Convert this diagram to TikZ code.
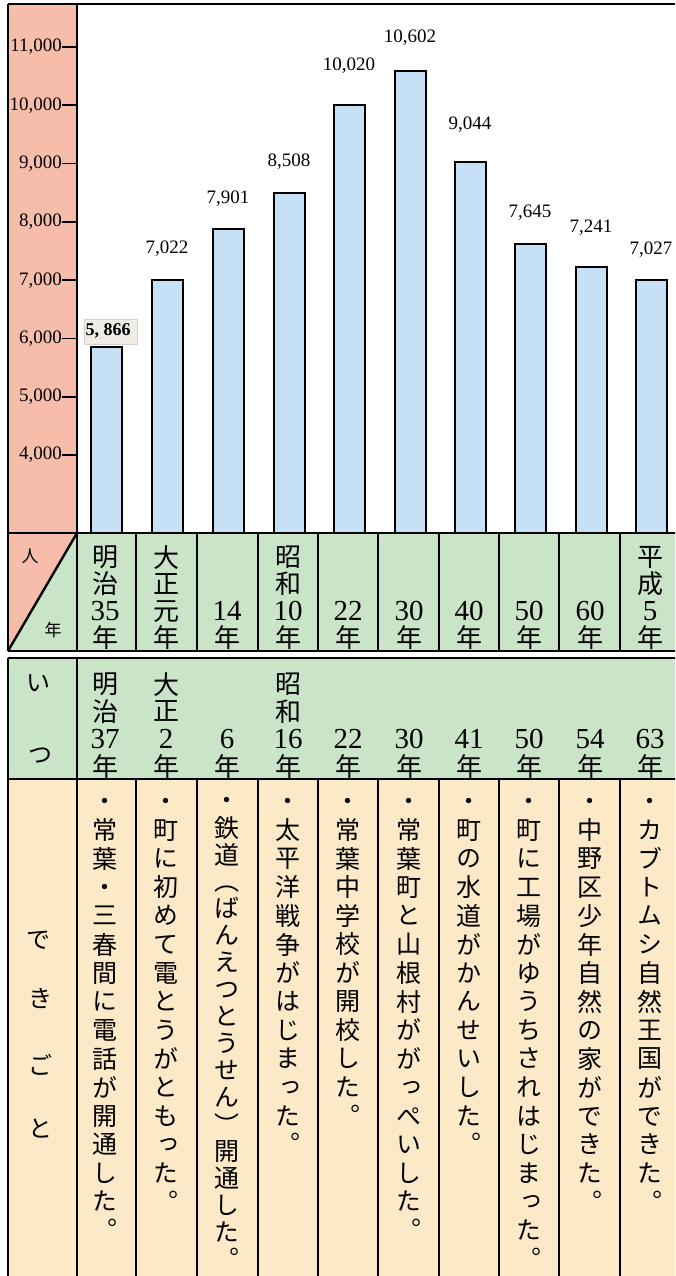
\documentclass[tikz,border=0pt]{standalone}
\usepackage{fontspec}
\setmainfont{Liberation Serif}
\newfontfamily\jfont[Script=CJK,RawFeature=+vert]{Noto Sans CJK JP}
\newfontfamily\jhfont{Noto Sans CJK JP}

\definecolor{axispink}{RGB}{246,189,170}
\definecolor{rowgreen}{RGB}{201,228,199}
\definecolor{rowcream}{RGB}{252,233,199}
\definecolor{barblue}{RGB}{198,225,246}
\definecolor{patchgray}{RGB}{238,236,228}

\newcommand\nm{\rmfamily\fontsize{29}{29}\selectfont}

\makeatletter
\newdimen\tate@pitch
\def\tate@stop{\tate@stop}
\newcommand\tate[2]{\vbox{\offinterlineskip\tate@pitch=#1\relax
  \expandafter\tate@loop#2\tate@stop}}
\def\tate@loop#1{\def\tate@arg{#1}%
  \ifx\tate@arg\tate@stop\else\tate@cell{#1}\expandafter\tate@loop\fi}
\def\tate@cell#1{%
  \vbox to\tate@pitch{\vss\hbox to 40pt{\hss\jfont\vphantom{国}#1\hss}\vss}}
\makeatother

\begin{document}
\begin{tikzpicture}[x=1pt,y=-1pt,
    rule/.style={line width=2.4pt},
    bar/.style={draw,line width=2pt,fill=barblue},
    tick/.style={anchor=east,inner sep=0pt,font=\fontsize{19}{19}\selectfont},
    val/.style={inner sep=0pt,font=\fontsize{19}{19}\selectfont},
    head/.style={inner sep=0pt,font=\jhfont\fontsize{24}{24}\selectfont},
    yearcell/.style={anchor=south,inner sep=0pt,font=\fontsize{26}{26}\selectfont},
    eventcell/.style={anchor=north,inner sep=0pt,font=\fontsize{25}{25}\selectfont}]
  \useasboundingbox (0,0) rectangle (675,1276);
  \clip (0,0) rectangle (675,1276);

  \coordinate (NW) at (8,4);
  \coordinate (axis top) at (77,4);
  \coordinate (base) at (77,533);
  \coordinate (row1) at (8,533);
  \coordinate (row1 end) at (8,651);
  \coordinate (row2) at (8,658);
  \coordinate (row3) at (8,779);

  \fill[white] (0,0) rectangle (675,1276);
  \fill[axispink] (NW) rectangle (base);
  \fill[rowgreen] (base) rectangle (680,651);
  \fill[axispink] (row1) -- (base) -- (row1 end) -- cycle;
  \fill[rowgreen] (base) -- (77,651) -- (row1 end) -- cycle;
  \fill[rowgreen] (row2) rectangle (680,779);
  \fill[rowcream] (row3) rectangle (680,1280);

  \foreach \cx/\v in {106/5866,167/7022,228/7901,289/8508,349/10020,
                      410/10602,470/9044,530/7645,591/7241,651/7027}
    \draw[bar] (\cx-15.5,533) rectangle (\cx+15.5,{456-(\v-4000)*0.058286});

  \foreach \k in {4,...,11}{
    \draw[line width=1.6pt] (62,{455-(\k-4)*58.286}) -- (77,{455-(\k-4)*58.286});
    \node[tick] (t\k) at (62,{455-(\k-4)*58.286}) {\k,000};
  }

  \draw[rule] (NW) -- (680,4);
  \draw[rule] (NW) -- (row1 end);
  \draw[rule] (row2) -- (8,1280);
  \draw[rule] (axis top) -- (77,651);
  \draw[rule] (77,658) -- (77,1280);
  \draw[rule] (row1) -- (680,533);
  \draw[rule] (row1 end) -- (680,651);
  \draw[rule] (row2) -- (680,658);
  \draw[rule] (row3) -- (680,779);
  \draw[rule] (row1 end) -- (base);
  \foreach \x in {136,197,258,318,378,439,499,559,620}{
    \draw[rule] (\x,533) -- (\x,651);
    \draw[rule] (\x,779) -- (\x,1280);
  }

  \fill[patchgray] (84,319) rectangle (137,344);
  \draw[gray!35,line width=.4pt] (84,319) rectangle (137,344);
  \node[val,font=\bfseries\fontsize{18}{18}\selectfont] (v106) at (108,331) {5, 866};
  \foreach \cx/\ly/\lab in {167/249/{7,022},228/199/{7,901},289/162/{8,508},
                            349/66/{10,020},410/38/{10,602},470/125/{9,044},
                            530/213/{7,645},591/228/{7,241},651/250/{7,027}}
    \node[val] (v\cx) at (\cx,\ly) {\lab};

  \node[head,font=\jhfont\fontsize{17}{17}\selectfont] (hito) at (30,556) {人};
  \node[head,font=\jhfont\fontsize{17}{17}\selectfont] (toshi) at (53,630) {年};
  \node[head] (itsu1) at (38,683) {い};
  \node[head] (itsu2) at (40,756) {つ};
  \node[head] (deki1) at (39,940) {で};
  \node[head] (deki2) at (40,998) {き};
  \node[head] (deki3) at (40,1065) {ご};
  \node[head] (deki4) at (40,1128) {と};

  \foreach \cx/\txt in {106/明治{\nm 35}年,167/大正元年,228/{\nm 14}年,
                        289/昭和{\nm 10}年,349/{\nm 22}年,410/{\nm 30}年,
                        470/{\nm 40}年,530/{\nm 50}年,591/{\nm 60}年,
                        651/平成{\nm 5}年}
    \node[yearcell] (y\cx) at (\cx-1,651) {\tate{26.7pt}{\txt}};

  \foreach \cx/\txt in {106/明治{\nm 37}年,167/大正{\nm 2}年,228/{\nm 6}年,
                        289/昭和{\nm 16}年,349/{\nm 22}年,410/{\nm 30}年,
                        470/{\nm 41}年,530/{\nm 50}年,591/{\nm 54}年,
                        651/{\nm 63}年}
    \node[yearcell] (w\cx) at (\cx-1,780) {\tate{27.3pt}{\txt}};

  \foreach \cx/\p/\txt in {106/28.6/・常葉・三春間に電話が開通した。,
                           167/28.6/・町に初めて電とうがともった。,
                           228/27.0/・鉄道（ばんえつとうせん）開通した。,
                           289/28.6/・太平洋戦争がはじまった。,
                           349/28.6/・常葉中学校が開校した。,
                           410/28.6/・常葉町と山根村ががっぺいした。,
                           470/28.6/・町の水道がかんせいした。,
                           530/28.6/・町に工場がゆうちされはじまった。,
                           591/28.6/・中野区少年自然の家ができた。,
                           651/28.6/・カブトムシ自然王国ができた。}
    \node[eventcell] (e\cx) at (\cx-1,787) {\tate{\p pt}{\txt}};
\end{tikzpicture}
\end{document}
